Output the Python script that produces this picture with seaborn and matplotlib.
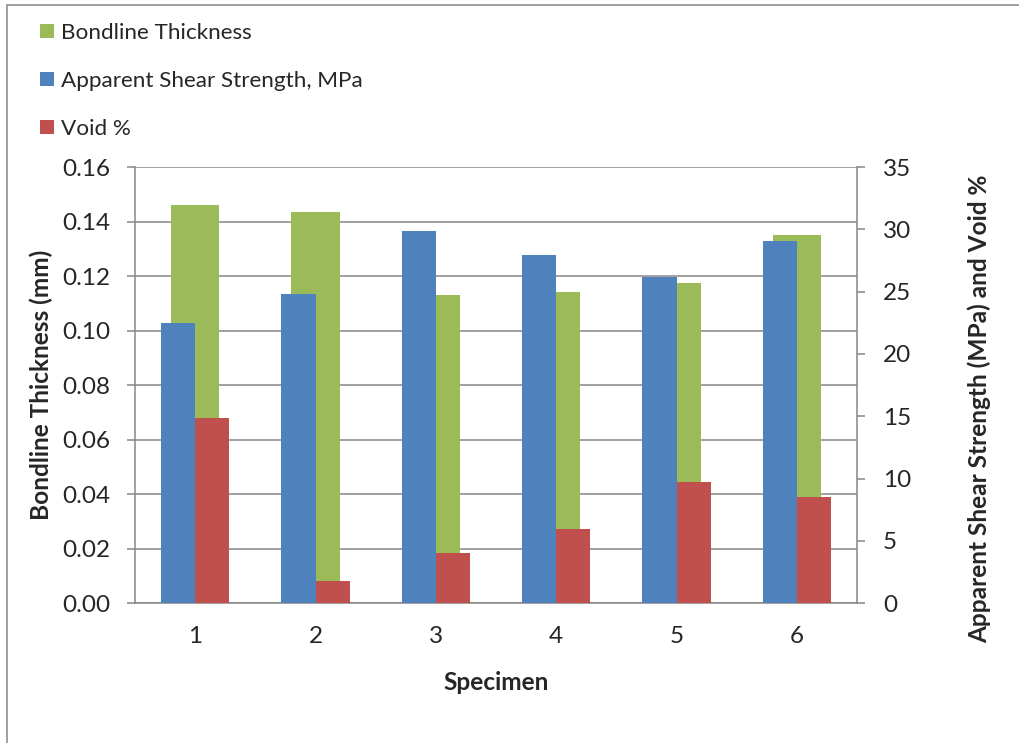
import matplotlib
matplotlib.use("Agg")
import matplotlib.pyplot as plt
import pandas as pd
import seaborn as sns
from matplotlib.patches import Patch, Rectangle
from matplotlib.ticker import MultipleLocator, FixedLocator, FormatStrFormatter

# Specimen data
specimens = ["1", "2", "3", "4", "5", "6"]
bondline_mm = [0.146, 0.1435, 0.113, 0.114, 0.1175, 0.135]
shear_mpa = [22.45, 24.85, 29.9, 27.95, 26.2, 29.1]
void_pct = [14.85, 1.75, 4.0, 5.95, 9.75, 8.5]
series_names = ["Bondline Thickness", "Apparent Shear Strength, MPa", "Void %"]

GREEN, BLUE, RED = "#9BBB59", "#4F81BD", "#C0504D"
GREY = "#868686"
FS_TICK = 17.5
FS_TITLE = 17.6
FS_LEG = 16.2

sns.set_style("white")
plt.rcParams["font.family"] = ["Lato", "DejaVu Sans"]

W, H = 1020, 743
fig = plt.figure(figsize=(W / 100, H / 100), dpi=100)
left, right, top, bottom = 135, 857, 167, 603.3
ax = fig.add_axes([left / W, 1 - bottom / H, (right - left) / W, (bottom - top) / H])
ax.patch.set_alpha(0)
ax2 = ax.twinx()

# thickness on the left axis, drawn behind
sns.barplot(x=specimens, y=bondline_mm, color=GREEN, saturation=1, width=0.4,
            linewidth=0, ax=ax)

# strength and voids side by side on the right axis
right_df = pd.DataFrame({
    "Specimen": specimens * 2,
    "Value": shear_mpa + void_pct,
    "Series": [series_names[1]] * len(specimens) + [series_names[2]] * len(specimens),
})
sns.barplot(data=right_df, x="Specimen", y="Value", hue="Series",
            hue_order=series_names[1:], palette=[BLUE, RED], saturation=1,
            width=0.57, gap=0, linewidth=0, legend=False, ax=ax2)

ax.set_xlim(-0.5, len(specimens) - 0.5)
ax.set_ylim(0, 0.16)
ax.yaxis.set_major_locator(MultipleLocator(0.02))
ax.yaxis.set_major_formatter(FormatStrFormatter("%.2f"))
ax2.set_ylim(0, 35)
ax2.yaxis.set_major_locator(MultipleLocator(5))

ax.grid(axis="y", color=GREY, linewidth=1.1)
ax.grid(axis="x", visible=False)
ax.set_axisbelow(True)

for s in ("top", "right"):
    ax.spines[s].set_visible(False)
for s in ("top", "left", "bottom"):
    ax2.spines[s].set_visible(False)
for sp in (ax.spines["left"], ax.spines["bottom"], ax2.spines["right"]):
    sp.set_color(GREY)
    sp.set_linewidth(1.1)

# category boundaries get the tick marks
ax.xaxis.set_minor_locator(FixedLocator([i - 0.5 for i in range(len(specimens) + 1)]))
ax.tick_params(axis="x", which="major", length=0, pad=16.5, labelsize=FS_TICK)
ax.tick_params(axis="x", which="minor", direction="out", length=5.8, width=1.1, color=GREY)
ax.tick_params(axis="y", direction="out", length=5.8, width=1.1, color=GREY,
               pad=12, labelsize=FS_TICK, left=True)
ax2.tick_params(axis="y", direction="out", length=5.8, width=1.1, color=GREY,
                pad=13, labelsize=FS_TICK, right=True)

ax.set_xlabel("Specimen", fontsize=FS_TITLE, fontweight="bold", labelpad=17)
ax.set_ylabel("Bondline Thickness (mm)", fontsize=FS_TITLE, fontweight="bold")
ax2.set_ylabel("Apparent Shear Strength (MPa) and Void %", fontsize=FS_TITLE, fontweight="bold")
ax.yaxis.set_label_coords(-0.130, 0.5)
ax2.yaxis.set_label_coords(1.170, 0.446)
ax.yaxis.label.set_va("center")
ax2.yaxis.label.set_va("center")
ax2.yaxis.label.set_rotation(90)

handles = [Patch(facecolor=c, edgecolor="none") for c in (GREEN, BLUE, RED)]
fig.legend(handles, series_names, loc="upper left", bbox_to_anchor=(40 / W, 1 - 23 / H),
           frameon=False, fontsize=FS_LEG, handlelength=0.62, handleheight=0.62,
           handletextpad=0.3, labelspacing=1.24, borderpad=0, borderaxespad=0)

# chart area frame
fig.patches.append(Rectangle((7 / W, -0.1), 1.2, 1.1 - 5 / H, transform=fig.transFigure,
                             fill=False, edgecolor=GREY, linewidth=1.1))

fig.savefig("out.png", dpi=100)
